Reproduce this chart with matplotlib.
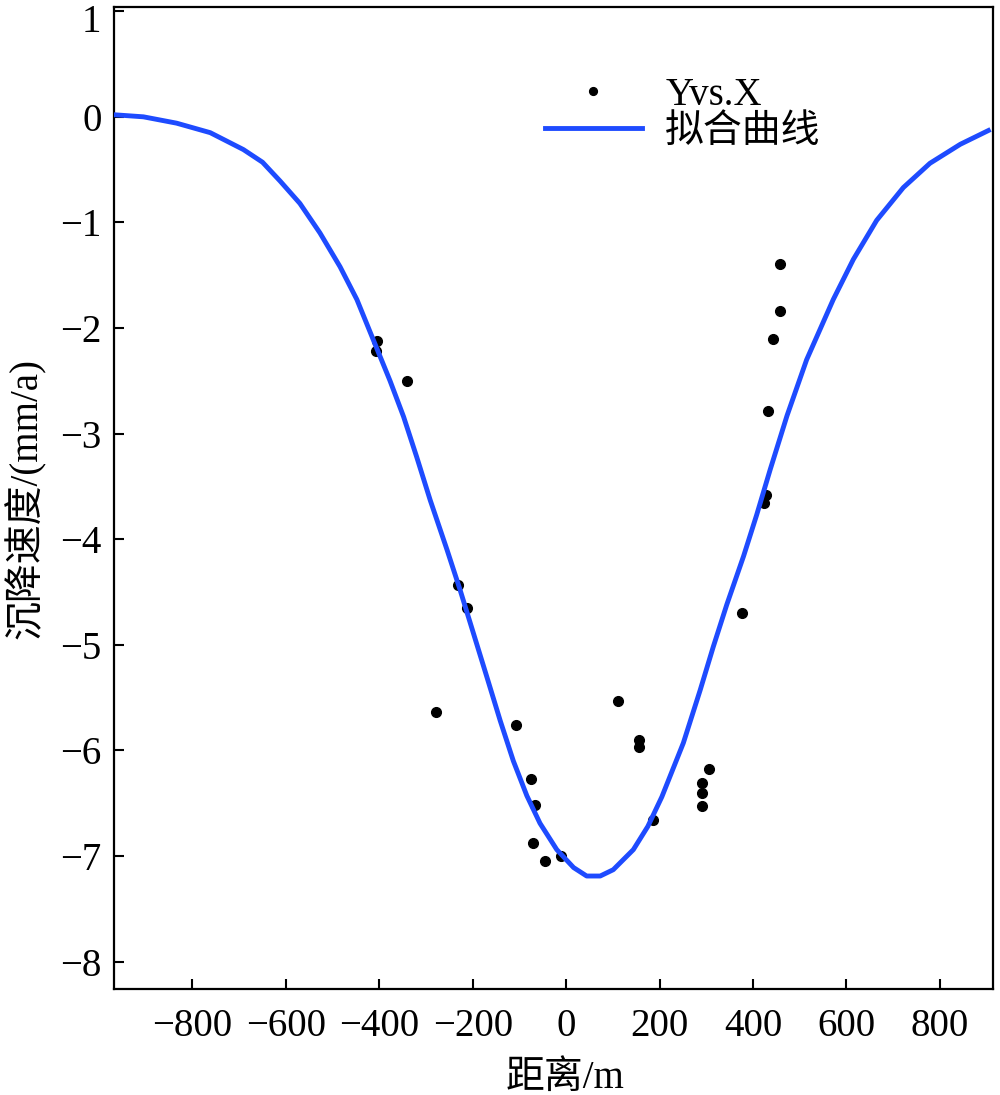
import matplotlib
matplotlib.use("Agg")
import matplotlib.pyplot as plt
import matplotlib.transforms as mtransforms

plt.rcParams['font.family'] = ['Liberation Serif', 'Noto Sans CJK SC']
plt.rcParams['axes.unicode_minus'] = True

# 散点 (距离 m, 沉降速度 mm/a)
pts_x = [-405, -407, -340, -232, -213, -278, -107, -75, -66, -71, -45, -10,
         112, 157, 157, 187, 306, 291, 291, 291, 376, 428, 424, 433, 444, 458, 458]
pts_y = [-2.12, -2.22, -2.50, -4.43, -4.65, -5.64, -5.76, -6.27, -6.52, -6.88, -7.05, -7.00,
         -5.53, -5.90, -5.97, -6.66, -6.18, -6.31, -6.40, -6.53, -4.70, -3.58, -3.66, -2.79, -2.10, -1.84, -1.39]

# 拟合曲线 (读图得到的点)
fit_x = [-969, -905, -834, -762, -691, -650, -612, -570, -527, -484, -448, -413,
         -377, -348, -320, -291, -255, -227, -202, -170, -141, -113, -84, -56,
         -20, 16, 44, 73, 101, 144, 175, 205, 251, 287, 315, 344, 380, 408,
         437, 473, 515, 572, 615, 665, 722, 779, 844, 904]
fit_y = [0.02, 0.00, -0.06, -0.15, -0.31, -0.43, -0.61, -0.82, -1.10, -1.42, -1.73, -2.11,
         -2.50, -2.84, -3.22, -3.63, -4.10, -4.48, -4.84, -5.30, -5.72, -6.10, -6.43, -6.69,
         -6.94, -7.11, -7.19, -7.19, -7.13, -6.94, -6.72, -6.44, -5.93, -5.43, -5.02, -4.62, -4.16, -3.77,
         -3.34, -2.83, -2.30, -1.73, -1.35, -0.98, -0.67, -0.44, -0.26, -0.13]

xticks = [-800, -600, -400, -200, 0, 200, 400, 600, 800]
yticks = [1, 0, -1, -2, -3, -4, -5, -6, -7, -8]

fig = plt.figure(figsize=(10, 10.95), dpi=100)
ax = fig.add_axes([0.114, 0.0968, 0.879, 0.8968])

ax.plot(pts_x, pts_y, 'o', color='black', markersize=7, label='Yvs.X', zorder=2)
ax.plot(fit_x, fit_y, '-', color='#1E4BFF', linewidth=3.5, label='拟合曲线', zorder=3)

ax.set_xlim(-968, 914)
ax.set_ylim(-8.26, 1.04)
ax.set_xticks(xticks)
ax.set_yticks(yticks)
ax.tick_params(axis='both', direction='in', length=7, width=1.5, labelsize=28)
ax.tick_params(axis='x', pad=14)
ax.tick_params(axis='y', pad=9)
for s in ax.spines.values():
    s.set_linewidth(1.6)

# 顶部 "1" 稍微下移, 免得被裁掉
top_lab = ax.get_yticklabels()[0]
top_lab.set_transform(top_lab.get_transform() +
                      mtransforms.ScaledTranslation(0, -5 / 72, fig.dpi_scale_trans))

ax.set_xlabel('距离/m', fontsize=28)
ax.set_ylabel('沉降速度/(mm/a)', fontsize=28)
ax.xaxis.set_label_coords(0.513, -0.072)
ax.yaxis.set_label_coords(-0.078, 0.5)

ax.legend(loc='upper left', bbox_to_anchor=(0.49, 0.929), frameon=False,
          fontsize=28, handlelength=2.5, handletextpad=0.6, labelspacing=0.0,
          borderpad=0, borderaxespad=0, markerscale=0.8)

fig.savefig('out.png', dpi=100)
